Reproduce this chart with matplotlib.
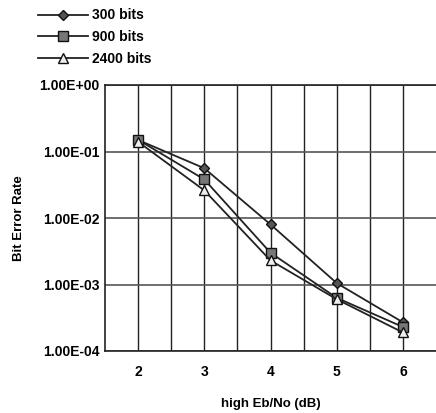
import matplotlib
matplotlib.use("Agg")
import matplotlib.pyplot as plt
from matplotlib.ticker import FixedLocator, FuncFormatter

# Eb/No (dB) and bit error rate per packet size
ebno = [2, 3, 4, 5, 6]
ber_300 = [0.149, 0.056, 0.0080, 0.00105, 0.00027]
ber_900 = [0.150, 0.038, 0.0030, 0.00063, 0.00023]
ber_2400 = [0.140, 0.026, 0.0023, 0.00060, 0.00019]
series_names = ["300 bits", "900 bits", "2400 bits"]

plt.rcParams['font.family'] = ['Liberation Sans', 'DejaVu Sans']

fig = plt.figure(figsize=(4.36, 4.13), dpi=100)
ax = fig.add_axes([105/436, 1 - 351/413, 331/436, 266/413])

l1, = ax.plot(ebno, ber_300, color='#222222', lw=1.3, marker='D', ms=5.5,
              mfc='#555555', mec='#111111', label=series_names[0])
l2, = ax.plot(ebno, ber_900, color='#222222', lw=1.3, marker='s', ms=7,
              mfc='#777777', mec='#111111', label=series_names[1])
l3, = ax.plot(ebno, ber_2400, color='#222222', lw=1.3, marker='^', ms=7,
              mfc='#eeeeee', mec='#111111', label=series_names[2])

ax.set_yscale('log')
ax.set_ylim(1e-4, 1)
ax.set_xlim(1.5, 6.5)
ax.set_xticks(ebno)
ax.xaxis.set_minor_locator(FixedLocator([2.5, 3.5, 4.5, 5.5]))
ax.yaxis.set_major_locator(FixedLocator([1e-4, 1e-3, 1e-2, 1e-1, 1]))
ax.yaxis.set_minor_locator(FixedLocator([]))
ax.yaxis.set_major_formatter(FuncFormatter(lambda v, p: "%.2E" % v))

ax.grid(True, which='major', axis='x', color='#222222', lw=1.0)
ax.grid(True, which='minor', axis='x', color='#222222', lw=1.0)
ax.grid(True, which='major', axis='y', color='#555555', lw=1.2)
ax.tick_params(axis='both', which='both', length=0, labelsize=10)
ax.tick_params(axis='x', pad=10)
ax.tick_params(axis='y', pad=4)
for lab in ax.get_xticklabels() + ax.get_yticklabels():
    lab.set_fontweight('bold')

for s in ['left', 'bottom', 'top']:
    ax.spines[s].set_color('#222222')
    ax.spines[s].set_linewidth(1.2)
ax.spines['right'].set_visible(False)

ax.set_ylabel('Bit Error Rate', fontsize=9.5, fontweight='bold', labelpad=10)
ax.set_xlabel('high Eb/No (dB)', fontsize=9.5, fontweight='bold', labelpad=14)

fig.legend(handles=[l1, l2, l3], loc='upper left', bbox_to_anchor=(25/436, 1.01),
           frameon=False, handlelength=3.6, labelspacing=0.55,
           handletextpad=0.3, prop={'weight': 'bold', 'size': 10})

fig.savefig('out.png', dpi=100)
